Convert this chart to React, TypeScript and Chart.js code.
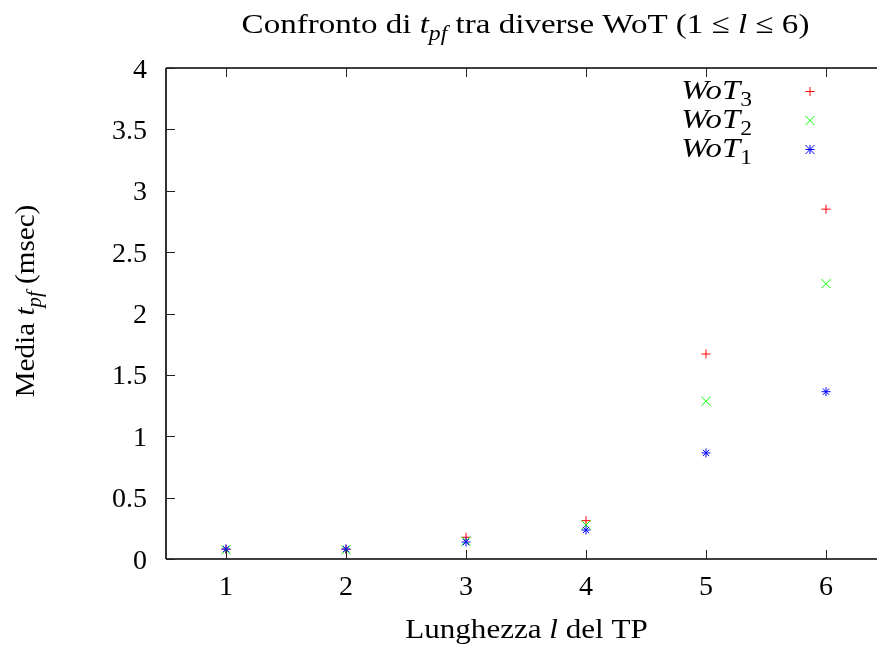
import React, { useEffect, useRef } from 'react';
import { Chart, registerables } from 'chart.js';

Chart.register(...registerables);

// ---- data ----
const lengths = [1, 2, 3, 4, 5, 6];
const wot3 = [0.08, 0.08, 0.177, 0.312, 1.67, 2.85];
const wot2 = [0.075, 0.075, 0.145, 0.277, 1.285, 2.243];
const wot1 = [0.081, 0.081, 0.138, 0.236, 0.864, 1.363];
const xTicks = [1, 2, 3, 4, 5, 6];
const xTickLabels = ['1', '2', '3', '4', '5', '6'];
const yTicks = [0, 0.5, 1, 1.5, 2, 2.5, 3, 3.5, 4];
const yTickLabels = ['0', '0.5', '1', '1.5', '2', '2.5', '3', '3.5', '4'];
const seriesNames = ['3', '2', '1'];

const FAMILY = "'Liberation Serif', 'DejaVu Serif', serif";
const FS = 28;

type Seg = { t: string; it?: boolean; sub?: boolean };

function fontFor(seg: Seg, size: number) {
  const s = seg.sub ? size * 0.72 : size;
  return `${seg.it ? 'italic ' : ''}${s}px ${FAMILY}`;
}
function measureSegs(ctx: CanvasRenderingContext2D, segs: Seg[], size: number) {
  let w = 0;
  for (const s of segs) {
    ctx.font = fontFor(s, size);
    w += ctx.measureText(s.t).width;
  }
  return w;
}
function drawSegs(
  ctx: CanvasRenderingContext2D,
  segs: Seg[],
  x: number,
  base: number,
  size: number,
  align: 'left' | 'center' | 'right',
  sx = 1,
) {
  const w = measureSegs(ctx, segs, size) * sx;
  const start = align === 'center' ? x - w / 2 : align === 'right' ? x - w : x;
  ctx.save();
  ctx.translate(start, base);
  ctx.scale(sx, 1);
  ctx.textAlign = 'left';
  ctx.textBaseline = 'alphabetic';
  let cx = 0;
  for (const s of segs) {
    ctx.font = fontFor(s, size);
    ctx.fillText(s.t, cx, s.sub ? size * 0.24 : 0);
    cx += ctx.measureText(s.t).width;
  }
  ctx.restore();
}

const colors = ['#ff0000', '#00ff00', '#0000ff'];
const styles = ['cross', 'crossRot', 'star'];

function drawMarker(ctx: CanvasRenderingContext2D, style: string, x: number, y: number, r: number, color: string) {
  ctx.save();
  ctx.strokeStyle = color;
  ctx.lineWidth = 1;
  ctx.beginPath();
  if (style === 'cross' || style === 'star') {
    ctx.moveTo(x - r, y); ctx.lineTo(x + r, y);
    ctx.moveTo(x, y - r); ctx.lineTo(x, y + r);
  }
  if (style === 'crossRot' || style === 'star') {
    ctx.moveTo(x - r, y - r); ctx.lineTo(x + r, y + r);
    ctx.moveTo(x - r, y + r); ctx.lineTo(x + r, y - r);
  }
  ctx.stroke();
  ctx.restore();
}

const decorPlugin = {
  id: 'decor',
  afterDraw(chart: any) {
    const { ctx, chartArea } = chart;
    const xs = chart.scales.x;
    const ys = chart.scales.y;
    const { left, right, top, bottom } = chartArea;
    ctx.save();
    // border (right side falls outside the canvas, as in the reference)
    ctx.strokeStyle = '#000';
    ctx.lineWidth = 1.6;
    ctx.beginPath();
    ctx.moveTo(left, top); ctx.lineTo(right + 20, top);
    ctx.moveTo(left, top); ctx.lineTo(left, bottom);
    ctx.moveTo(left, bottom); ctx.lineTo(right + 20, bottom);
    ctx.stroke();
    // ticks (inward, mirrored on top)
    ctx.lineWidth = 1;
    ctx.strokeStyle = '#222';
    ctx.beginPath();
    const TL = 9;
    xTicks.forEach((v) => {
      const px = Math.round(xs.getPixelForValue(v)) + 0.5;
      ctx.moveTo(px, bottom); ctx.lineTo(px, bottom - TL);
      ctx.moveTo(px, top); ctx.lineTo(px, top + TL);
    });
    yTicks.forEach((v) => {
      const py = Math.round(ys.getPixelForValue(v)) + 0.5;
      ctx.moveTo(left, py); ctx.lineTo(left + TL, py);
    });
    ctx.stroke();

    ctx.fillStyle = '#000';
    // tick labels
    xTicks.forEach((v, i) => {
      drawSegs(ctx, [{ t: xTickLabels[i] }], xs.getPixelForValue(v), bottom + 36, FS, 'center');
    });
    yTicks.forEach((v, i) => {
      drawSegs(ctx, [{ t: yTickLabels[i] }], left - 19, ys.getPixelForValue(v) + 9.5, FS, 'right');
    });

    // title
    drawSegs(ctx, [
      { t: 'Confronto di ' }, { t: 't', it: true }, { t: 'pf', it: true, sub: true },
      { t: ' tra diverse WoT (1 \u2264 ' }, { t: 'l', it: true }, { t: ' \u2264 6)' },
    ], 525.5, 33, FS, 'center', 1.18);

    // x title
    drawSegs(ctx, [{ t: 'Lunghezza ' }, { t: 'l', it: true }, { t: ' del TP' }], 526.5, 638, FS, 'center', 1.11);

    // y title
    ctx.save();
    ctx.translate(34, 301);
    ctx.rotate(-Math.PI / 2);
    drawSegs(ctx, [{ t: 'Media ' }, { t: 't', it: true }, { t: 'pf', it: true, sub: true }, { t: ' (msec)' }], 0, 0, FS, 'center', 1.04);
    ctx.restore();

    // legend
    seriesNames.forEach((n, i) => {
      const base = 99 + i * 29;
      drawSegs(ctx, [{ t: 'WoT', it: true }, { t: n, sub: true }], 752, base, FS, 'right', 1.17);
      drawMarker(ctx, styles[i], 810, base - 7.5, 4.5, colors[i]);
    });
    ctx.restore();
  },
};

export default function App() {
  const ref = useRef<HTMLCanvasElement>(null);
  useEffect(() => {
    document.body.style.margin = '0';
    const series = [wot3, wot2, wot1];
    const radii = [4.5, 6.4, 4.5];
    const chart = new Chart(ref.current!, {
      type: 'scatter',
      data: {
        datasets: series.map((vals, i) => ({
          label: 'WoT' + seriesNames[i],
          data: lengths.map((x, j) => ({ x, y: vals[j] })),
          pointStyle: styles[i] as any,
          radius: radii[i],
          pointRadius: radii[i],
          borderColor: colors[i],
          backgroundColor: colors[i],
          borderWidth: 1,
          order: 3 - i,
        })),
      },
      options: {
        animation: false,
        responsive: false,
        devicePixelRatio: 1,
        layout: { autoPadding: false, padding: { left: 166, top: 68, right: 0, bottom: 88 } },
        plugins: { legend: { display: false }, tooltip: { enabled: false }, title: { display: false } },
        scales: {
          x: { type: 'linear', min: 0.5, max: 6.425, display: false },
          y: { type: 'linear', min: 0, max: 4, display: false },
        },
      },
      plugins: [decorPlugin],
    });
    return () => chart.destroy();
  }, []);
  return (
    <div style={{ width: 877, height: 647, background: '#fff' }}>
      <canvas ref={ref} width={877} height={647} style={{ display: 'block' }} />
    </div>
  );
}
